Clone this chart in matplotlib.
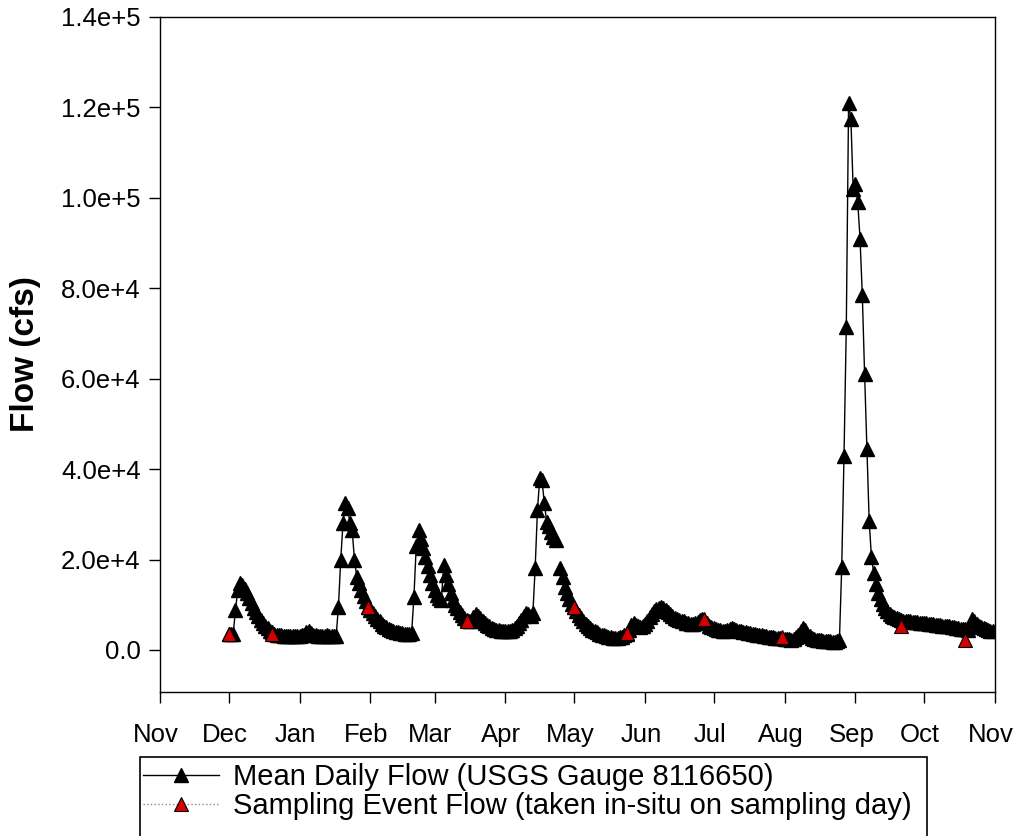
import datetime as dt

import numpy as np
import matplotlib
matplotlib.use('Agg')
import matplotlib.pyplot as plt
import matplotlib.dates as mdates
import matplotlib.transforms as mtransforms
from matplotlib.lines import Line2D
from matplotlib.patches import Rectangle
from matplotlib.ticker import FixedLocator, FuncFormatter

plt.rcParams['font.family'] = ['Liberation Sans', 'DejaVu Sans']

# Mean daily flow, thousands of cfs, one list per month (Dec 2016 - Oct 2017)
dec_flow = [3.5, 3.5, 3.6, 8.9, 13.3, 14.8, 14.3, 13.5, 12.5, 11.4, 10.3, 9.3, 8.3, 7.4, 6.6, 5.9,
            5.3, 4.8, 4.3, 3.9, 3.6, 3.4, 3.3, 3.2, 3.1, 3.1, 3.0, 3.0, 3.0, 3.1, 3.1]
jan_flow = [3.1, 3.2, 3.4, 3.9, 4.3, 3.8, 3.4, 3.2, 3.1, 3.0, 3.0, 3.1, 3.2, 3.1, 3.0, 3.0,
            3.1, 9.6, 19.9, 28.1, 32.5, 31.5, 28.1, 26.5, 20.0, 16.2, 14.8, 13.3, 12.0, 10.8, 9.6]
feb_flow = [8.8, 8.1, 7.4, 6.8, 6.3, 5.8, 5.4, 5.0, 4.7, 4.4, 4.2, 4.0, 3.9, 3.8, 3.7, 3.6,
            3.6, 3.6, 3.8, 11.8, 22.9, 26.6, 24.5, 22.5, 20.5, 18.5, 16.5, 14.8]
mar_flow = [13.3, 12.2, 11.5, 11.1, 18.8, 16.5, 14.5, 12.5, 11.0, 10.0, 9.2, 8.4, 7.7, 7.1, 6.6, 6.4,
            6.5, 7.2, 8.0, 7.6, 7.0, 6.4, 5.9, 5.5, 5.2, 4.9, 4.7, 4.5, 4.4, 4.3, 4.2]
apr_flow = [4.2, 4.2, 4.3, 4.5, 4.8, 5.3, 5.9, 6.6, 7.4, 8.2, 7.9, 7.6, 8.2, 18.2, 31.0, 38.0,
            37.5, 32.5, 28.4, 27.5, 26.2, 25.0, 24.4, np.nan, 18.2, 16.2, 14.0, 12.5, 11.2, 10.2]
may_flow = [9.5, 8.6, 7.8, 7.1, 6.4, 5.8, 5.3, 4.9, 4.5, 4.2, 3.9, 3.6, 3.4, 3.2, 3.0, 2.9,
            2.8, 2.7, 2.7, 2.7, 2.8, 2.9, 3.2, 3.6, 4.5, 5.5, 6.0, 5.6, 5.2, 5.0, 5.4]
jun_flow = [5.8, 6.5, 7.2, 8.0, 8.6, 9.0, 9.3, 9.5, 9.3, 8.9, 8.4, 7.9, 7.5, 7.1, 6.9, 6.7,
            6.5, 6.3, 6.0, 5.9, 5.8, 5.8, 5.9, 6.2, 6.6, 6.9, 6.7, 6.0, 5.4, 5.0]
jul_flow = [4.8, 4.6, 4.5, 4.4, 4.3, 4.3, 4.4, 4.6, 4.9, 4.7, 4.4, 4.2, 4.1, 4.0, 3.9, 3.8,
            3.7, 3.6, 3.5, 3.4, 3.3, 3.2, 3.1, 3.0, 2.9, 2.8, 2.8, 2.7, 2.7, 2.6, 2.6]
aug_flow = [2.5, 2.4, 2.4, 2.3, 2.5, 2.8, 3.4, 4.2, 4.9, 4.5, 3.6, 3.0, 2.7, 2.5, 2.3, 2.2,
            2.1, 2.0, 2.0, 1.9, 1.9, 1.8, 1.8, 1.9, 2.3, 18.4, 43.0, 71.5, 121.0, 117.5, 102.0]
sep_flow = [103.0, 99.0, 91.0, 78.5, 61.0, 44.5, 28.5, 20.5, 17.0, 14.5, 12.6, 11.3, 10.2, 9.3, 8.6, 8.0,
            7.6, 7.2, 7.0, 6.8, 6.6, 6.5, 6.4, 6.3, 6.3, 6.2, 6.1, 6.1, 6.0, 6.0]
oct_flow = [5.9, 5.9, 5.8, 5.8, 5.7, 5.6, 5.6, 5.5, 5.4, 5.4, 5.3, 5.2, 5.1, 5.0, 4.9, 4.8,
            4.7, 4.6, 4.6, 4.5, 5.2, 6.8, 6.4, 5.8, 5.3, 5.0, 4.8, 4.6, 4.5, 4.3, 4.2]

# Flow measured in the field on each sampling day, thousands of cfs
sample_dates = ['2016-12-01', '2016-12-20', '2017-01-31', '2017-03-15', '2017-05-01',
                '2017-05-24', '2017-06-27', '2017-07-31', '2017-09-21', '2017-10-19']
sample_flow = [3.5, 3.5, 9.6, 6.3, 9.6, 3.7, 6.9, 2.9, 5.3, 2.2]

yticks = [0, 20000, 40000, 60000, 80000, 100000, 120000, 140000]

daily_flow = np.concatenate([dec_flow, jan_flow, feb_flow, mar_flow, apr_flow, may_flow,
                             jun_flow, jul_flow, aug_flow, sep_flow, oct_flow]) * 1000
days = np.arange(np.datetime64('2016-12-01'), np.datetime64('2016-12-01') + len(daily_flow))
days = days.astype('datetime64[D]').astype(dt.datetime)
sample_days = np.array(sample_dates, dtype='datetime64[D]').astype(dt.datetime)
sample_cfs = np.array(sample_flow) * 1000

fig = plt.figure(figsize=(10.13, 8.36), dpi=100)
ax = fig.add_axes([160 / 1013, 1 - 692 / 836, 835 / 1013, 675 / 836])

ax.plot(days, daily_flow, color='black', lw=1.0, marker='^', ms=9.5,
        markerfacecolor='black', markeredgecolor='black', zorder=2)
ax.plot(sample_days, sample_cfs, linestyle='none', marker='^', ms=9.5,
        markerfacecolor='#d40000', markeredgecolor='black', markeredgewidth=0.8, zorder=3)

ax.set_xlim(dt.datetime(2016, 11, 1), dt.datetime(2017, 11, 1))
ax.set_ylim(-9300, 140000)
ax.xaxis.set_major_locator(mdates.MonthLocator())
ax.xaxis.set_major_formatter(mdates.DateFormatter('%b'))
ax.yaxis.set_major_locator(FixedLocator(yticks))


def sci_label(v, pos):
    if v == 0:
        return '0.0'
    exp = int(np.floor(np.log10(abs(v))))
    return '{:.1f}e+{}'.format(v / 10 ** exp, exp)


ax.yaxis.set_major_formatter(FuncFormatter(sci_label))
ax.tick_params(axis='both', direction='out', length=8, width=1.0, labelsize=18.5,
               colors='black')
ax.tick_params(axis='x', pad=14)
ax.tick_params(axis='y', pad=6)
for side in ax.spines.values():
    side.set_linewidth(1.0)

# month names sit a few pixels left of their ticks
shift = mtransforms.ScaledTranslation(-4 / 100, 0, fig.dpi_scale_trans)
for lbl in ax.get_xticklabels():
    lbl.set_transform(lbl.get_transform() + shift)

ax.set_ylabel('Flow (cfs)', fontsize=24, fontweight='bold', labelpad=14)

# Legend below the plot; frame runs off the bottom edge of the figure
handles = [
    Line2D([], [], color='black', lw=1.0, marker='^', ms=9.5, markerfacecolor='black'),
    Line2D([], [], color='#888888', lw=1.0, linestyle=':', marker='^', ms=9.5,
           markerfacecolor='#d40000', markeredgecolor='black', markeredgewidth=0.8),
]
labels = ['Mean Daily Flow (USGS Gauge 8116650)',
          'Sampling Event Flow (taken in-situ on sampling day)']
fig.legend(handles, labels, loc='upper left', bbox_to_anchor=(143 / 1013, 1 - 763 / 836),
           frameon=False, fontsize=21, handlelength=2.6, handletextpad=0.5,
           labelspacing=0.05, borderpad=0.0, borderaxespad=0.0)
fig.patches.append(Rectangle((140 / 1013, -0.05), 787 / 1013, 0.05 + 79 / 836,
                             transform=fig.transFigure, fill=False,
                             edgecolor='black', lw=1.2))

fig.savefig('out.png', dpi=100)
